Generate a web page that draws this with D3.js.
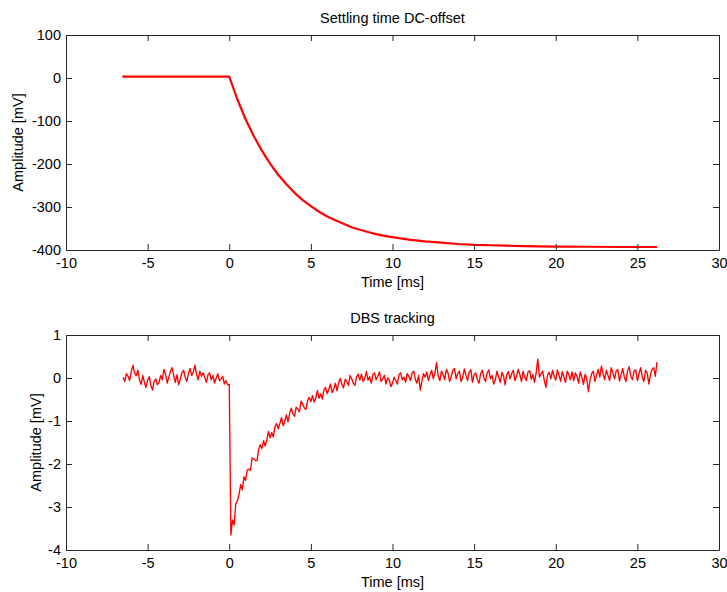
<!DOCTYPE html>
<html>
<head>
<meta charset="utf-8">
<script src="https://cdn.jsdelivr.net/npm/d3@7/dist/d3.min.js"></script>
<style>
  html, body { margin: 0; padding: 0; background: #fff; }
  svg text { font-family: "Liberation Sans", Arial, Helvetica, sans-serif; fill: #000; }
</style>
</head>
<body>
<svg id="chart" width="727" height="592"></svg>
<script>
// ---------- DATA ----------
const xTicks = [-10, -5, 0, 5, 10, 15, 20, 25, 30];
const topYTicks = [100, 0, -100, -200, -300, -400];
const bottomYTicks = [1, 0, -1, -2, -3, -4];

const topTitle = "Settling time DC-offset";
const bottomTitle = "DBS tracking";
const xLabel = "Time [ms]";
const yLabelTop = "Amplitude [mV]";
const yLabelBottom = "Amplitude [mV]";

// Settling time DC-offset (mV)
const offsetTime = [-6.55, -5, -3, -1, 0, 0.5, 1, 1.5, 2, 2.5, 3, 3.5, 4, 4.5, 5, 5.5, 6, 6.5, 7, 7.5,
  8, 8.5, 9, 9.5, 10, 11, 12, 13, 14, 15, 16, 17, 18, 19, 20, 22, 24, 26.2];
const offsetValue = [3, 3, 3, 3, 3, -50, -96, -135, -169, -199, -225, -247, -267, -284, -298, -311, -322, -331, -339, -347,
  -353, -358, -363, -367, -370, -376, -380, -383, -386, -388, -389, -390, -391, -391.5, -392, -392.5, -393, -393];

// DBS tracking (mV), samples every 0.1 ms starting at -6.5 ms
const dbsStart = -6.5;
const dbsStep = 0.1;
const dbsValue = [
  // -6.5 .. -0.1
  0.02, -0.08, 0.10, 0.04, -0.06, 0.15, 0.30, 0.12, 0.05, 0.18,
  -0.04, -0.15, 0.06, -0.10, -0.22, -0.05, 0.03, -0.18, -0.28, -0.08,
  -0.02, -0.16, -0.10, 0.06, -0.04, 0.20, 0.08, -0.12, 0.02, 0.16,
  0.24, 0.05, -0.10, 0.08, -0.16, -0.02, 0.12, 0.18, 0.02, -0.08,
  0.10, 0.22, 0.06, 0.14, 0.30, 0.08, -0.04, 0.16, 0.04, 0.12,
  0.02, -0.10, 0.08, 0.12, -0.04, 0.06, -0.12, 0.00, 0.10, -0.06,
  -0.02, 0.04, -0.14, -0.06, -0.16,
  // 0.0
  -0.15,
  // 0.1 .. 11.0
  -3.65, -3.30, -3.42, -2.92, -2.86, -2.70, -2.48, -2.60, -2.30, -2.38,
  -2.14, -2.12, -2.15, -1.86, -1.88, -1.92, -1.92, -1.66, -1.55, -1.64,
  -1.46, -1.58, -1.45, -1.24, -1.39, -1.27, -1.37, -1.13, -1.06, -1.18,
  -1.06, -0.92, -1.11, -1.01, -0.86, -1.02, -0.82, -0.70, -0.83, -0.89,
  -0.68, -0.72, -0.79, -0.54, -0.61, -0.70, -0.73, -0.52, -0.45, -0.55,
  -0.41, -0.56, -0.47, -0.29, -0.47, -0.37, -0.49, -0.27, -0.22, -0.36,
  -0.26, -0.14, -0.34, -0.26, -0.12, -0.30, -0.11, -0.01, -0.15, -0.23,
  -0.03, -0.08, -0.17, 0.06, -0.02, -0.12, -0.17, 0.03, 0.09, -0.05,
  0.09, -0.08, -0.01, 0.15, -0.05, 0.03, -0.12, 0.08, 0.12, -0.04,
  0.04, 0.14, -0.08, -0.02, 0.06, -0.14, 0.00, -0.04, -0.20, -0.12,
  0.02, -0.06, -0.14, 0.08, 0.12, -0.04, 0.02, -0.10, 0.10, 0.04,
  // 11.1 .. 26.2
  -0.06, 0.12, 0.16, -0.04, -0.12, 0.06, -0.28, -0.08, 0.10, 0.02,
  0.14, -0.06, 0.08, 0.18, -0.02, 0.12, 0.36, 0.04, -0.06, 0.16,
  0.08, -0.04, 0.20, 0.12, -0.08, 0.04, 0.18, 0.22, -0.02, 0.10,
  0.16, -0.08, 0.02, 0.21, 0.06, -0.06, 0.14, 0.19, -0.10, 0.08,
  0.12, -0.04, -0.12, 0.10, 0.18, 0.00, -0.08, 0.12, 0.19, -0.02,
  0.06, -0.14, -0.04, 0.16, 0.02, -0.10, 0.13, 0.05, -0.16, 0.08,
  0.15, -0.02, 0.10, 0.18, -0.06, 0.04, 0.20, 0.08, -0.08, 0.16,
  0.02, -0.06, 0.14, 0.17, -0.03, 0.08, -0.10, 0.12, 0.44, 0.02,
  0.10, 0.16, -0.06, -0.22, 0.08, 0.13, -0.02, 0.18, 0.04, -0.05,
  0.19, 0.06, -0.08, 0.15, 0.02, -0.10, 0.16, 0.08, -0.04, 0.14,
  -0.06, 0.12, 0.04, -0.12, 0.14, 0.02, -0.15, 0.09, -0.02, -0.32,
  -0.04, 0.10, 0.16, -0.08, 0.06, 0.20, 0.02, 0.28, 0.10, -0.04,
  0.18, 0.06, -0.06, 0.24, 0.12, -0.02, 0.16, 0.20, -0.07, 0.08,
  0.22, 0.02, -0.08, 0.17, 0.26, 0.04, -0.04, 0.16, 0.19, -0.06,
  0.10, 0.24, 0.02, -0.08, 0.18, 0.12, -0.14, 0.08, 0.20, 0.24,
  0.04, 0.37
];

// ---------- LAYOUT ----------
const svg = d3.select("#chart");
const left = 66, right = 719;
const panels = [
  { top: 35, bottom: 250, domain: [-400, 100], yTicks: topYTicks, title: topTitle, ylabel: yLabelTop, ylabelX: 18,
    data: offsetTime.map((t, i) => [t, offsetValue[i]]), width: 2.2 },
  { top: 335, bottom: 550, domain: [-4, 1], yTicks: bottomYTicks, title: bottomTitle, ylabel: yLabelBottom, ylabelX: 36,
    data: dbsValue.map((v, i) => [dbsStart + i * dbsStep, v]), width: 1.35 }
];

const x = d3.scaleLinear().domain([-10, 30]).range([left, right]);
const tickLen = 6;
const axisColor = "#262626";
const fontSize = 14.5;
const fmt = d => String(d);

panels.forEach(p => {
  const y = d3.scaleLinear().domain(p.domain).range([p.bottom, p.top]);
  const g = svg.append("g");

  // data line
  const clipId = "clip" + p.top;
  svg.append("clipPath").attr("id", clipId).append("rect")
    .attr("x", left).attr("y", p.top).attr("width", right - left).attr("height", p.bottom - p.top);
  g.append("path")
    .datum(p.data)
    .attr("clip-path", `url(#${clipId})`)
    .attr("fill", "none")
    .attr("stroke", "#ff0000")
    .attr("stroke-width", p.width)
    .attr("stroke-linejoin", "round")
    .attr("d", d3.line().x(d => x(d[0])).y(d => y(d[1])));

  // axes (ticks inward, box)
  const bottomAxis = d3.axisBottom(x).tickValues(xTicks).tickSizeInner(-tickLen).tickSizeOuter(0).tickPadding(4).tickFormat(fmt);
  const topAxis = d3.axisTop(x).tickValues(xTicks).tickSizeInner(-tickLen).tickSizeOuter(0).tickFormat("");
  const leftAxis = d3.axisLeft(y).tickValues(p.yTicks).tickSizeInner(-tickLen).tickSizeOuter(0).tickPadding(5).tickFormat(fmt);
  const rightAxis = d3.axisRight(y).tickValues(p.yTicks).tickSizeInner(-tickLen).tickSizeOuter(0).tickFormat("");

  const styleAxis = sel => {
    sel.selectAll("path").attr("stroke", axisColor).attr("stroke-width", 1);
    sel.selectAll("line").attr("stroke", axisColor).attr("stroke-width", 1);
    sel.selectAll("text").attr("font-size", fontSize).attr("fill", "#000")
      .style("font-family", '"Liberation Sans", Arial, sans-serif');
  };
  g.append("g").attr("transform", `translate(0,${p.bottom})`).call(bottomAxis).call(styleAxis)
    .selectAll("text").attr("dy", "0.95em");
  g.append("g").attr("transform", `translate(0,${p.top})`).call(topAxis).call(styleAxis);
  g.append("g").attr("transform", `translate(${left},0)`).call(leftAxis).call(styleAxis);
  g.append("g").attr("transform", `translate(${right},0)`).call(rightAxis).call(styleAxis);

  // title
  g.append("text").attr("x", (left + right) / 2).attr("y", p.top - 12)
    .attr("text-anchor", "middle").attr("font-size", fontSize).text(p.title);
  // x label
  g.append("text").attr("x", (left + right) / 2).attr("y", p.bottom + 37)
    .attr("text-anchor", "middle").attr("font-size", fontSize).text(xLabel);
  // y label
  g.append("text")
    .attr("transform", `translate(${p.ylabelX},${(p.top + p.bottom) / 2}) rotate(-90)`)
    .attr("text-anchor", "middle").attr("dy", "0.35em").attr("font-size", fontSize).text(p.ylabel);
});
</script>
</body>
</html>
